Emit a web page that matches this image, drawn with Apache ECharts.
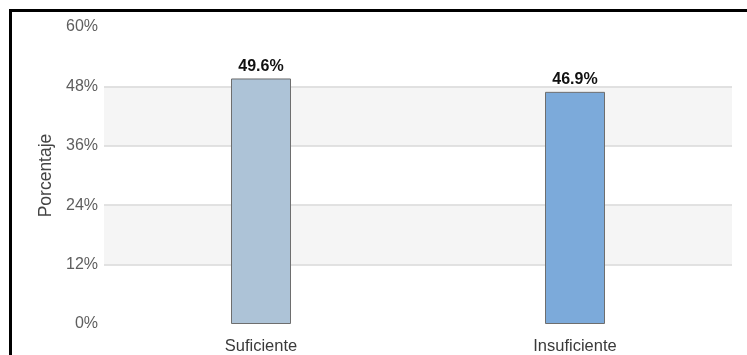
<!DOCTYPE html>
<html>
<head>
<meta charset="utf-8">
<script src="https://cdn.jsdelivr.net/npm/echarts@6/dist/echarts.min.js"></script>
<style>
    html, body { margin: 0; padding: 0; background: #fff; }
    #chart { position: absolute; left: 0; top: 0; width: 747px; height: 355px; }
    .frame { position: absolute; left: 9px; top: 9px; width: 750px; height: 360px;
             border-top: 3px solid #000; border-left: 3px solid #000; pointer-events: none; }
</style>
</head>
<body>
<div id="chart"></div>
<div class="frame"></div>
<script>
var categories = ['Suficiente', 'Insuficiente'];
var values = [49.6, 46.9];
var barColors = ['#adc3d7', '#7caada'];
var yTicks = [0, 12, 24, 36, 48, 60];

var fontFam = '"Liberation Sans", Arial, sans-serif';

var chart = echarts.init(document.getElementById('chart'));

var option = {
    animation: false,
    grid: {
        left: 104,
        right: 15,
        top: 27,
        bottom: 31
    },
    xAxis: {
        type: 'category',
        data: categories,
        axisLine: { show: false },
        axisTick: { show: false },
        axisLabel: {
            margin: 14,
            color: '#3a3a3a',
            fontSize: 16.5,
            fontFamily: fontFam
        }
    },
    yAxis: {
        type: 'value',
        min: yTicks[0],
        max: yTicks[yTicks.length - 1],
        interval: 12,
        name: 'Porcentaje',
        nameLocation: 'middle',
        nameGap: 48,
        nameTextStyle: {
            color: '#444',
            fontSize: 17.5,
            fontFamily: fontFam
        },
        axisLine: { show: false },
        axisTick: { show: false },
        axisLabel: {
            margin: 6,
            color: '#5e5e5e',
            fontSize: 16,
            fontFamily: fontFam,
            formatter: '{value}%'
        },
        splitLine: {
            show: true,
            showMinLine: false,
            showMaxLine: false,
            lineStyle: { color: '#d9d9d9', width: 1.5 }
        },
        splitArea: {
            show: true,
            areaStyle: { color: ['#ffffff', '#f5f5f5'] }
        }
    },
    series: [{
        type: 'bar',
        barWidth: 60,
        data: values.map(function (v, i) {
            return {
                value: v,
                itemStyle: { color: barColors[i] }
            };
        }),
        itemStyle: {
            borderColor: '#6e6e6e',
            borderWidth: 1
        },
        label: {
            show: true,
            position: 'top',
            distance: 4,
            color: '#111',
            fontWeight: 'bold',
            fontSize: 16,
            fontFamily: fontFam,
            formatter: '{c}%'
        }
    }]
};

chart.setOption(option);
</script>
</body>
</html>
